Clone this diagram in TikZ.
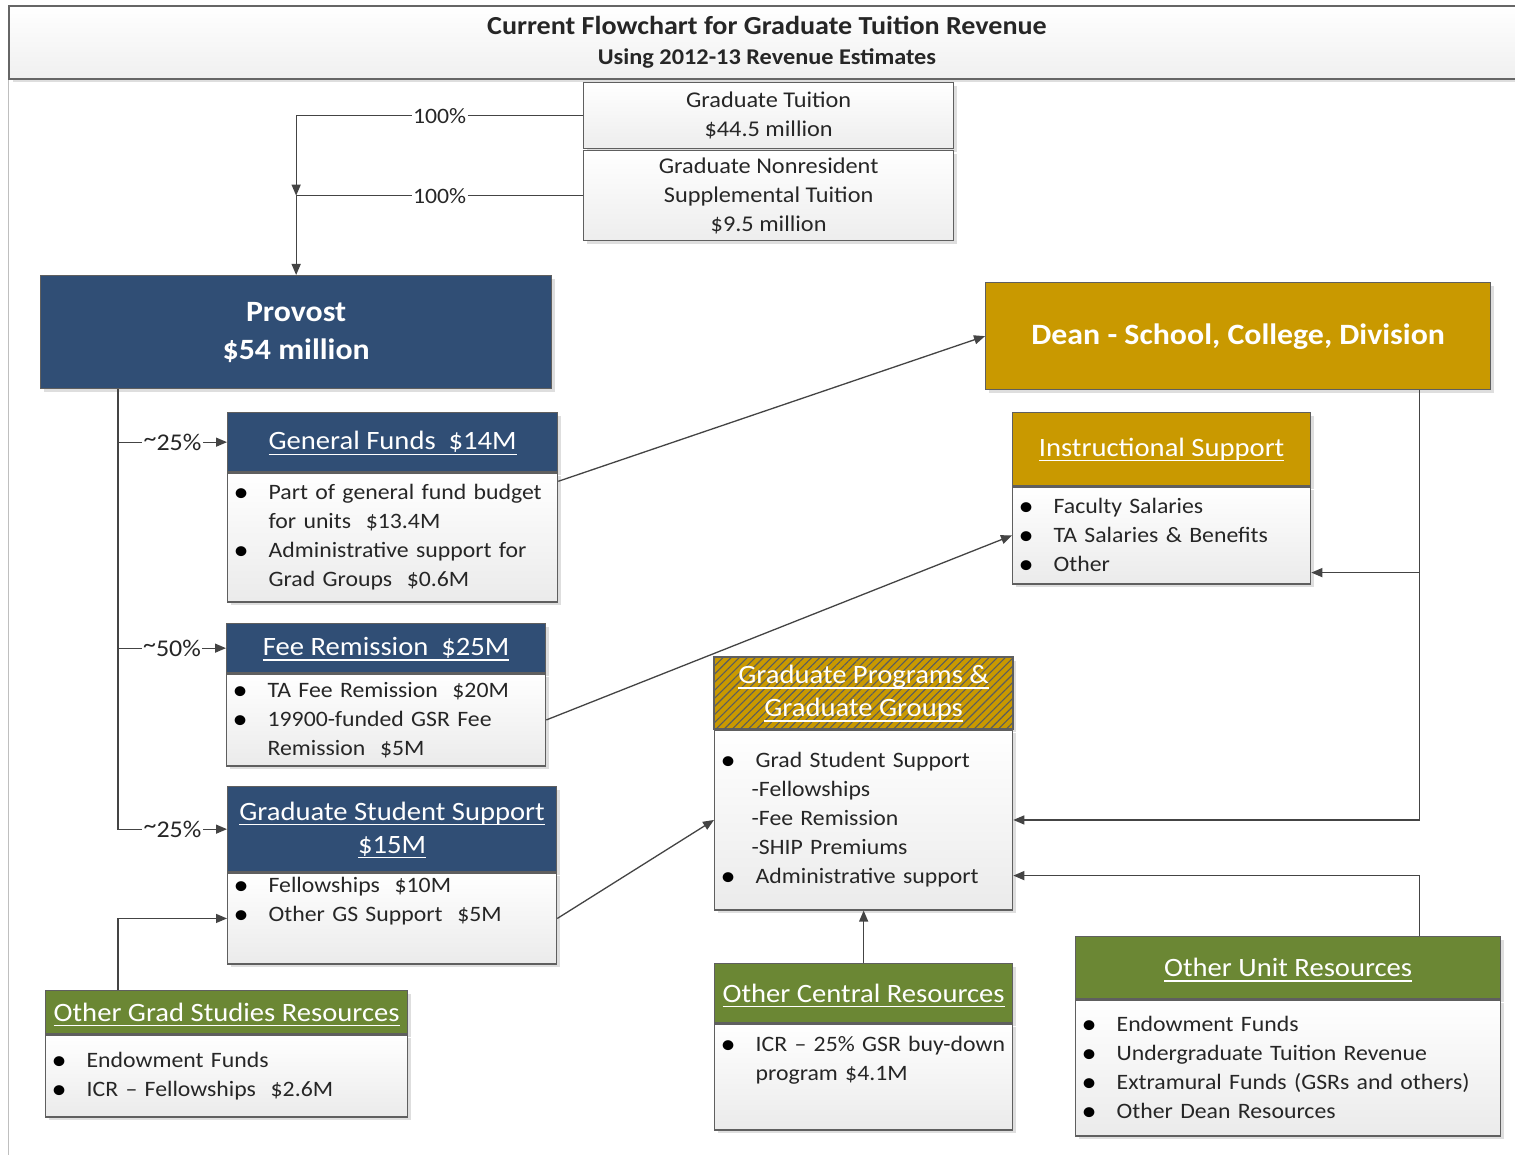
\documentclass[tikz,border=0pt]{standalone}
\usepackage{fontspec}
\setmainfont{Carlito}[FakeStretch=1.08]
\usetikzlibrary{arrows.meta,shadows,patterns.meta,calc}
\definecolor{hblue}{RGB}{48,78,117}
\definecolor{hgold}{RGB}{201,153,0}
\definecolor{hgreen}{RGB}{107,135,52}
\definecolor{hatchc}{RGB}{88,92,96}
\definecolor{lnc}{RGB}{68,68,68}
\definecolor{bdc}{RGB}{95,95,95}
\definecolor{txc}{RGB}{38,38,38}
\newcommand\fbody{\fontsize{22}{29}\selectfont}
\newcommand\fhdr{\fontsize{26.5}{33}\selectfont}
\newsavebox\hulbox
\newcommand\hul[1]{\sbox\hulbox{#1}\rlap{\smash{\rule[-5pt]{\wd\hulbox}{1.3pt}}}\usebox\hulbox}
\newcommand\blt{\raisebox{-2pt}{\color{black}\fontsize{28}{0}\selectfont\textbullet}}
\newcommand\itm[1]{\makebox[35pt][l]{\blt}\mbox{#1}}
\newcommand\cnt[1]{\hspace*{35pt}\mbox{#1}}
\newcommand\tld{\raisebox{4pt}{\textasciitilde}}
\tikzset{
 box/.style={draw=bdc, line width=1.3pt, anchor=north west, inner sep=0pt,
   general shadow={fill=black!13, shadow xshift=3.5pt, shadow yshift=-3.5pt}},
 hdr/.style={box, fill=#1, text=white, font=\fhdr, align=center},
 hdrtxt/.style={text=white, font=\fhdr, align=center, inner sep=0pt},
 body/.style={box, top color=white, bottom color=black!8, text=txc, font=\fbody, align=left, inner xsep=6pt},
 srcbox/.style={box, top color=white, bottom color=black!7, text=txc, font=\fontsize{22.5}{29}\selectfont, align=center},
 conn/.style={draw=lnc, line width=1.3pt},
 arr/.style={conn, -{Triangle[length=11pt,width=9pt]}},
 pct/.style={fill=white, inner xsep=1.5pt, inner ysep=0pt, font=\fbody, text=txc},
 pctb/.style={pct, font=\fontsize{24}{29}\selectfont},
}
\begin{document}
\begin{tikzpicture}[x=1pt,y=-1pt]
\useasboundingbox (0,0) rectangle (1515,1155);
\clip (0,0) rectangle (1515,1155);
\fill[white] (0,0) rectangle (1515,1155);

% frame and title
\draw[black!25, line width=1pt] (8,78) -- (8,1160);
\node[box, top color=white, bottom color=black!6, draw=black!60, line width=2pt,
      minimum width=1532pt, minimum height=73pt] (tbar) at (8,5) {};
\node[font=\fontsize{26}{30}\bfseries\selectfont, text=txc, anchor=base] (ttl) at (767,35)
   {Current Flowchart for Graduate Tuition Revenue};
\node[font=\fontsize{22.5}{25}\bfseries\selectfont, text=txc, anchor=base] (sub) at (767,65)
   {Using 2012-13 Revenue Estimates};

% sources
\node[srcbox, minimum width=370pt, minimum height=66pt] (gt) at (583,82)
   {Graduate Tuition\\\$44.5 million};
\node[srcbox, minimum width=370pt, minimum height=90pt] (nr) at (583,150)
   {Graduate Nonresident\\Supplemental Tuition\\\$9.5 million};

% provost
\node[box, fill=hblue, text=white, font=\fontsize{29.5}{38}\bfseries\selectfont, align=center,
      minimum width=511pt, minimum height=113pt] (prov) at (40,275) {Provost\\\$54 million};

% dean
\node[box, fill=hgold, text=white, font=\fontsize{29.5}{36}\bfseries\selectfont,
      minimum width=505pt, minimum height=107pt] (dean) at (985,282) {Dean - School, College, Division};

% General funds
\node[hdr=hblue, minimum width=330pt, minimum height=59pt] (gfh) at (227,412)
   {\hul{General Funds\ \ \$14M}};
\node[body, text width=318pt, minimum width=330pt, minimum height=129pt] (gf) at (gfh.south west)
   {\itm{Part of general fund budget}\\ \cnt{for units\ \ \$13.4M}\\
    \itm{Administrative support for}\\ \cnt{Grad Groups\ \ \$0.6M}};

% Fee remission
\node[hdr=hblue, minimum width=319pt, minimum height=49pt] (frh) at (226,623)
   {\hul{Fee Remission\ \ \$25M}};
\node[body, text width=307pt, minimum width=319pt, minimum height=92pt] (fr) at (frh.south west)
   {\itm{TA Fee Remission\ \ \$20M}\\ \itm{19900-funded GSR Fee}\\ \cnt{Remission\ \ \$5M}};

% Graduate student support
\node[hdr=hblue, minimum width=329pt, minimum height=85pt] (gsh) at (227,786)
   {\hul{Graduate Student Support}\\\hul{\$15M}};
\node[body, text width=317pt, minimum width=329pt, minimum height=91pt] (gs) at (gsh.south west)
   {\itm{Fellowships\ \ \$10M}\\ \itm{Other GS Support\ \ \$5M}\\ \strut};

% Other grad studies resources
\node[hdr=hgreen, minimum width=362pt, minimum height=43pt] (ogsh) at (45,990)
   {\hul{Other Grad Studies Resources}};
\node[body, text width=350pt, minimum width=362pt, minimum height=82pt] (ogs) at (ogsh.south west)
   {\itm{Endowment Funds}\\ \itm{ICR \textendash{} Fellowships\ \ \$2.6M}};

% Instructional support
\node[hdr=hgold, minimum width=298pt, minimum height=73pt] (ish) at (1012,412)
   {\hul{Instructional Support}};
\node[body, text width=286pt, minimum width=298pt, minimum height=97pt] (is) at (ish.south west)
   {\itm{Faculty Salaries}\\ \itm{TA Salaries \& Benefits}\\ \itm{Other}};

% Graduate programs (hatched header)
\node[box, fill=hgold, minimum width=298pt, minimum height=71pt] (gph) at (714,657) {};
\path[pattern={Lines[angle=45,distance=5.7pt,line width=1.1pt]}, pattern color=hatchc]
   (gph.north west) rectangle (gph.south east);
\draw[bdc, line width=1.3pt] (gph.north west) rectangle (gph.south east);
\node[hdrtxt] (gpt) at (gph.center) {\hul{Graduate Programs \&}\\\hul{Graduate Groups}};
\node[body, text width=286pt, minimum width=298pt, minimum height=180pt] (gp) at (gph.south west)
   {\itm{Grad Student Support}\\ \hspace*{31pt}-Fellowships\\ \hspace*{31pt}-Fee Remission\\
    \hspace*{31pt}-SHIP Premiums\\ \itm{Administrative support}};

% Other central resources
\node[hdr=hgreen, minimum width=298pt, minimum height=59pt] (ocrh) at (714,963)
   {\hul{Other Central Resources}};
\node[body, text width=286pt, minimum width=298pt, minimum height=106pt] (ocr) at (ocrh.south west)
   {\itm{ICR \textendash{} 25\% GSR buy-down}\\ \cnt{program \$4.1M}\\ \strut};

% Other unit resources
\node[hdr=hgreen, minimum width=425pt, minimum height=62pt] (ourh) at (1075,936)
   {\hul{Other Unit Resources}};
\node[body, text width=413pt, minimum width=425pt, minimum height=136pt] (our) at (ourh.south west)
   {\itm{Endowment Funds}\\ \itm{Undergraduate Tuition Revenue}\\
    \itm{Extramural Funds (GSRs and others)}\\ \itm{Other Dean Resources}};

% connectors
\draw[arr] (gt.west) -- node[pct]{100\%} (gt.west -| prov.north) -- (nr.west -| prov.north);
\draw[arr] (nr.west) -- node[pct]{100\%} (nr.west -| prov.north) -- (prov.north);

\coordinate (trk) at ($(prov.south west)+(78,0)$);
\draw[arr] (trk) |- node[pctb,pos=0.75]{\tld 25\%} (gfh.west);
\draw[arr] (trk) |- node[pctb,pos=0.75]{\tld 50\%} (frh.west);
\draw[arr] (trk) |- node[pctb,pos=0.75]{\tld 25\%} (gsh.west);
\draw[arr] (ogsh.north -| trk) |- (gs.west);

\draw[arr] ($(gf.north east)+(0,9)$) -- (dean.west);
\draw[arr] (fr.east) -- (is.west);
\draw[arr] (gs.east) -- (gp.west);

\coordinate (dk) at ($(dean.south east)+(-72,0)$);
\draw[arr] (dk) |- (gp.east);
\coordinate (isp) at ($(is.south east)+(0,-12)$);
\draw[arr] (dk |- isp) -- (isp);
\coordinate (gpp) at ($(gp.south east)+(0,-35)$);
\draw[arr] (ourh.north -| dk) |- (gpp);
\draw[arr] (ocrh.north) -- (gp.south);
\end{tikzpicture}
\end{document}
